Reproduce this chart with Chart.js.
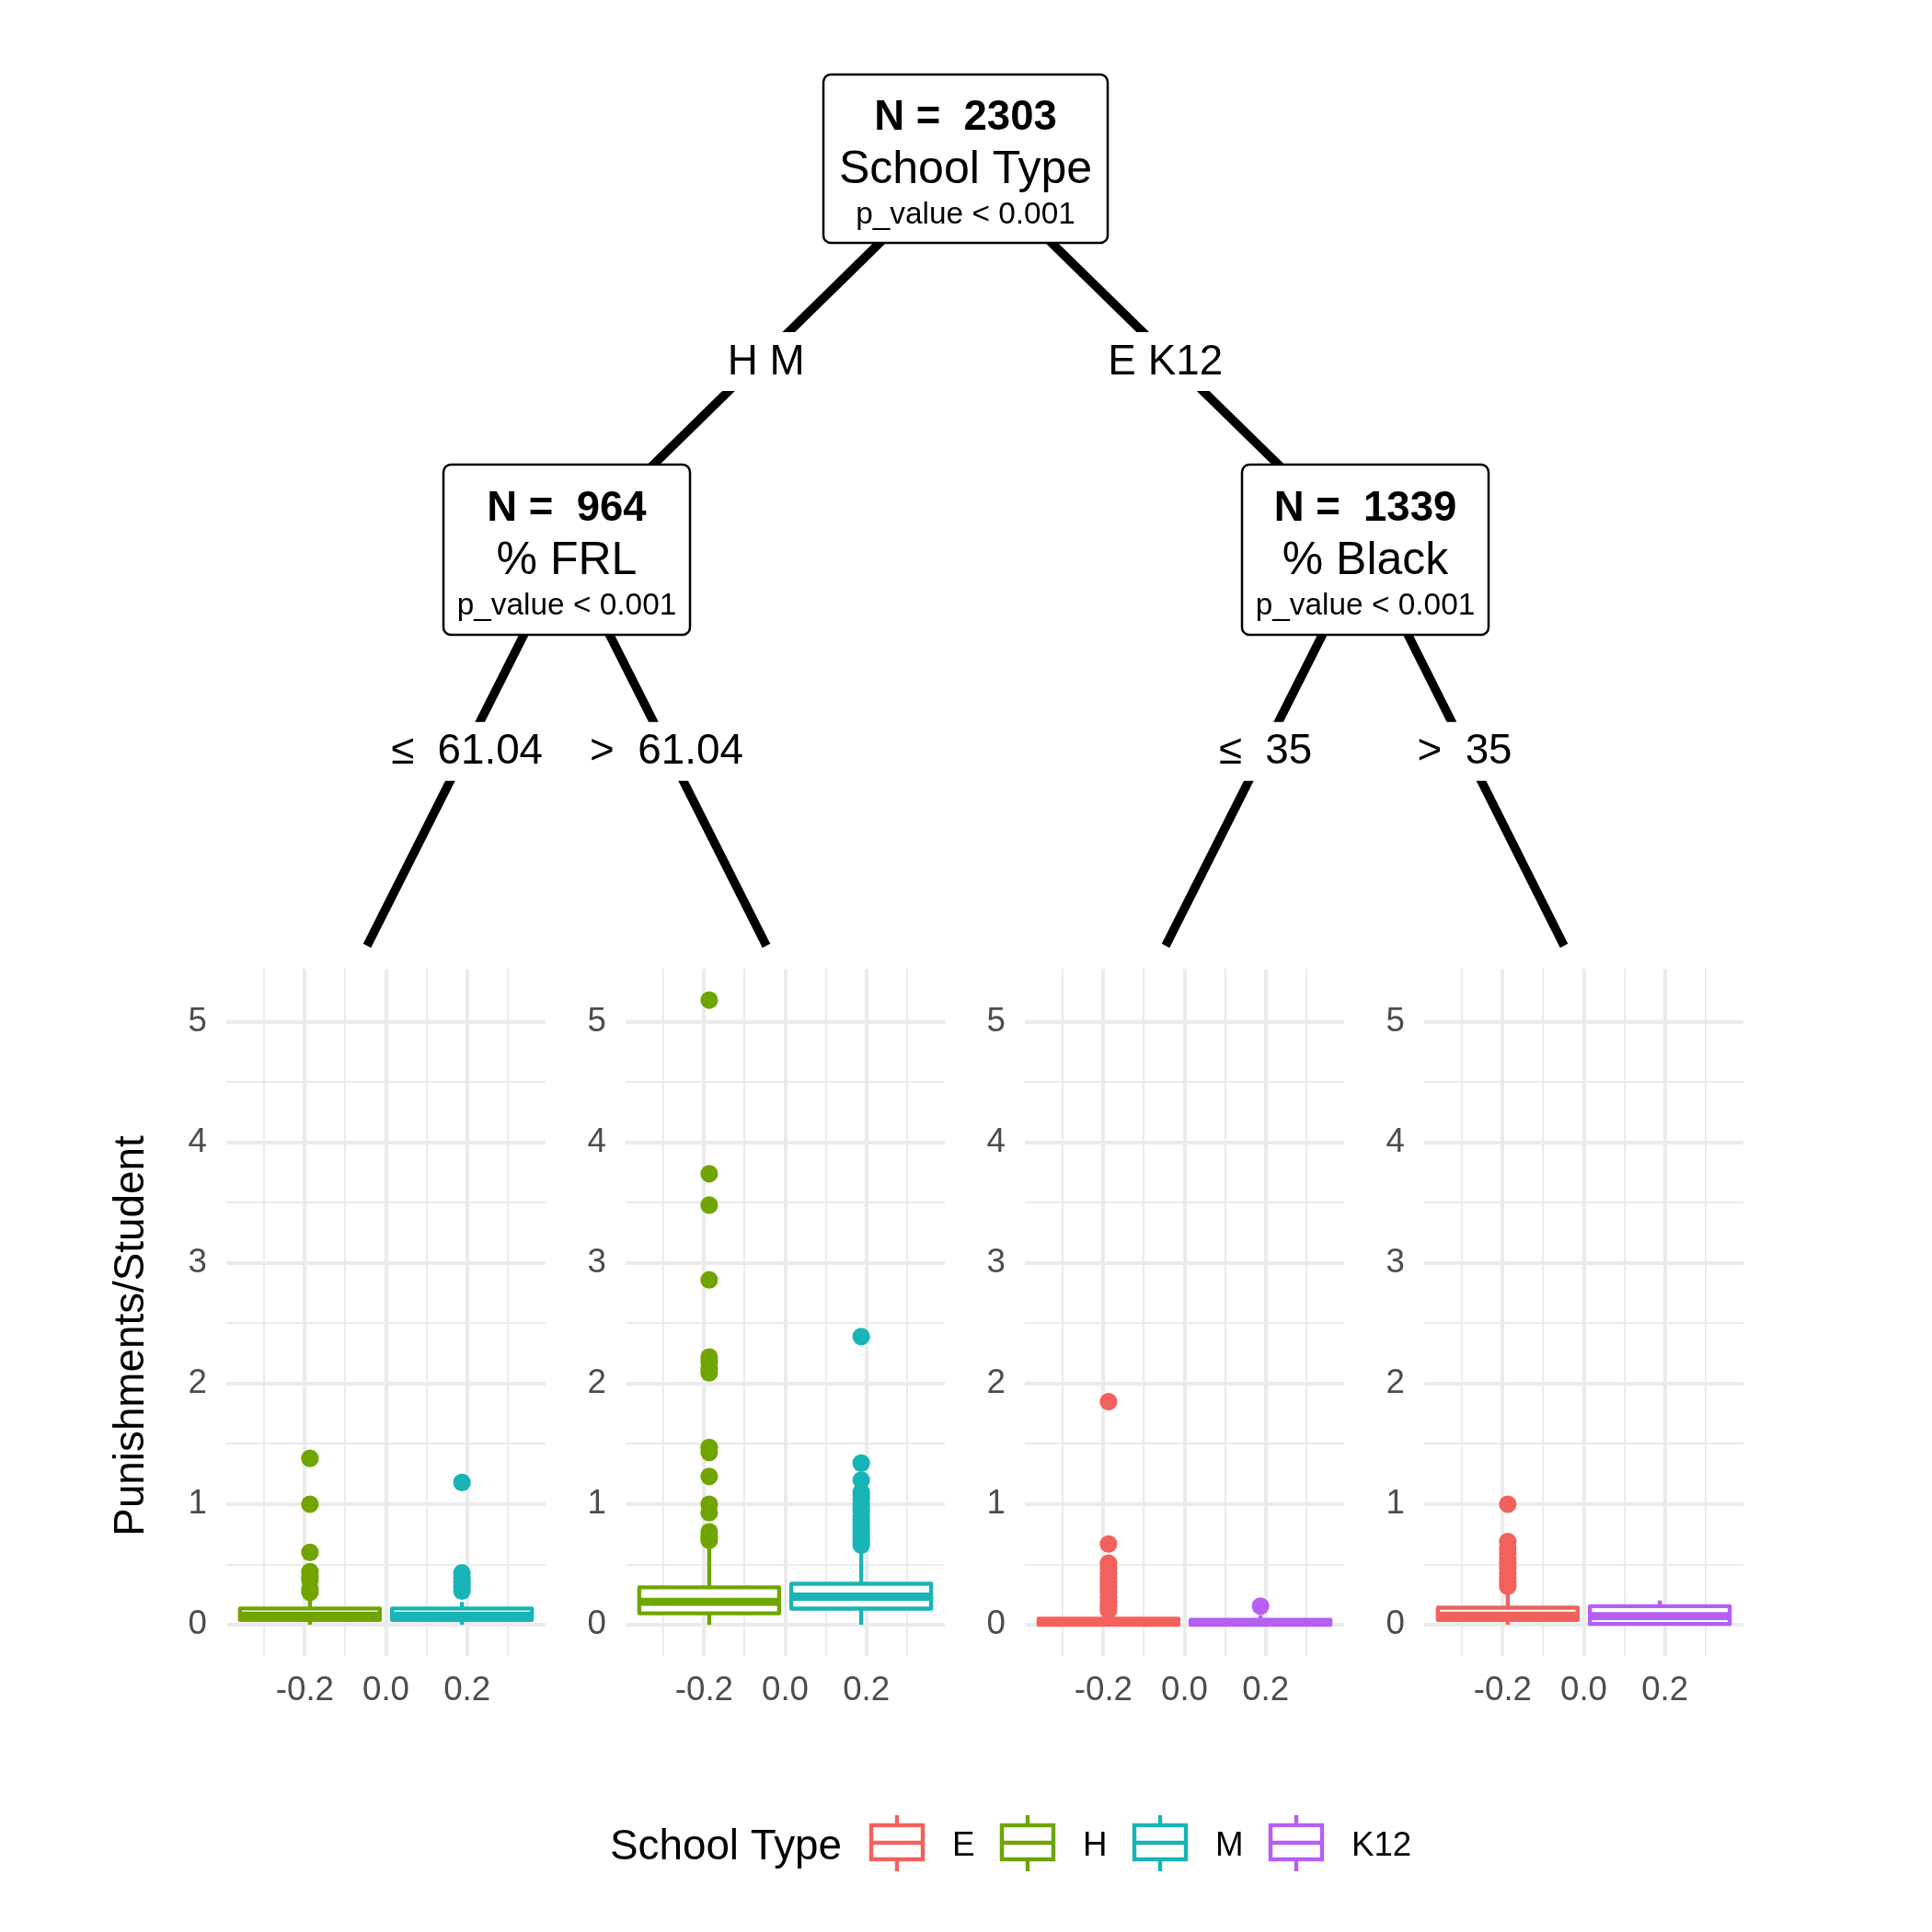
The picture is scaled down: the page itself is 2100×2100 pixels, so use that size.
<!DOCTYPE html>
<html>
<head>
<meta charset="utf-8">
<script src="https://cdn.jsdelivr.net/npm/chart.js@4.4.1/dist/chart.umd.min.js"></script>
<style>
  body { margin: 0; background: #fff; }
  #page { position: relative; width: 2100px; height: 2100px; background: #fff; }
  canvas { position: absolute; }
</style>
</head>
<body>
<div id="page">
  <canvas id="tree" width="2100" height="2100" style="left:0;top:0;width:2100px;height:2100px"></canvas>
</div>
<script>
// ---- data ----
const schoolTypes = ['E', 'H', 'M', 'K12'];
const typeColors = { E: '#F3615D', H: '#70A500', M: '#19B4B6', K12: '#B55FF5' };

const nodeN = [2303, 964, 1339];
const nodeVars = ['School Type', '% FRL', '% Black'];
const nodeP = ['p_value < 0.001', 'p_value < 0.001', 'p_value < 0.001'];
const edgeLabels = ['H M', 'E K12', '\u2264  61.04', '>  61.04', '\u2264  35', '>  35'];

const xTicks = [-0.2, 0.0, 0.2];
const yTicks = [0, 1, 2, 3, 4, 5];
const boxX = [-0.1875, 0.1875];

// terminal 1: % FRL <= 61.04
const t1Groups = ['H', 'M'];
const t1Low = [0, 0];
const t1Q1 = [0.04, 0.04];
const t1Median = [0.075, 0.075];
const t1Q3 = [0.135, 0.135];
const t1High = [0.2, 0.19];
const t1OutH = [1.38, 1.0, 0.6, 0.44, 0.4, 0.37, 0.3, 0.27];
const t1OutM = [1.18, 0.43, 0.39, 0.35, 0.32, 0.28];

// terminal 2: % FRL > 61.04
const t2Groups = ['H', 'M'];
const t2Low = [0, 0];
const t2Q1 = [0.095, 0.134];
const t2Median = [0.19, 0.233];
const t2Q3 = [0.31, 0.34];
const t2High = [0.64, 0.6];
const t2OutH = [5.18, 3.74, 3.48, 2.86, 2.22, 2.18, 2.12, 2.09, 1.47, 1.43, 1.23, 1.0, 0.93, 0.77, 0.73, 0.7];
const t2OutM = [2.39, 1.34, 1.2, 1.1, 1.07, 1.04, 1.0, 0.97, 0.94, 0.9, 0.87, 0.84, 0.81, 0.78, 0.75, 0.72, 0.69, 0.66];

// terminal 3: % Black <= 35
const t3Groups = ['E', 'K12'];
const t3Low = [0, 0];
const t3Q1 = [0, 0];
const t3Median = [0.02, 0.02];
const t3Q3 = [0.05, 0.04];
const t3High = [0.1, 0.08];
const t3OutE = [1.85, 0.67, 0.51, 0.47, 0.43, 0.39, 0.35, 0.31, 0.27, 0.23, 0.19, 0.15, 0.12];
const t3OutK12 = [0.155];

// terminal 4: % Black > 35
const t4Groups = ['E', 'K12'];
const t4Low = [0, 0];
const t4Q1 = [0.04, 0.007];
const t4Median = [0.076, 0.072];
const t4Q3 = [0.142, 0.154];
const t4High = [0.26, 0.2];
const t4OutE = [1.0, 0.69, 0.63, 0.59, 0.55, 0.51, 0.47, 0.43, 0.39, 0.35, 0.32];
const t4OutK12 = [];

// ---- layout ----
const FONT = '"Liberation Sans", Arial, Helvetica, sans-serif';
Chart.defaults.font.family = FONT;

const innerNodes = [
  { cx: 1049.5, cy: 172.5, w: 309, h: 183 },
  { cx: 616, cy: 597.5, w: 268, h: 185 },
  { cx: 1484, cy: 597.5, w: 268, h: 185 }
];
const termTops = [[399, 1028], [833, 1028], [1267, 1028], [1700, 1028]];
const edges = [[0, 'n', 1], [0, 'n', 2], [1, 't', 0], [1, 't', 1], [2, 't', 2], [2, 't', 3]];

const treePlugin = {
  id: 'tree',
  afterDraw(chart) {
    const ctx = chart.ctx;
    ctx.save();

    // edges
    ctx.strokeStyle = '#000';
    ctx.lineWidth = 9.5;
    ctx.lineCap = 'butt';
    const mids = [];
    edges.forEach(([from, kind, to]) => {
      const a = innerNodes[from];
      const b = kind === 'n' ? [innerNodes[to].cx, innerNodes[to].cy] : termTops[to];
      ctx.beginPath();
      ctx.moveTo(a.cx, a.cy);
      ctx.lineTo(b[0], b[1]);
      ctx.stroke();
      mids.push([(a.cx + b[0]) / 2, (a.cy + b[1]) / 2, kind === 'n' ? 9 : 5]);
    });

    // edge labels
    ctx.font = '45.8px ' + FONT;
    ctx.textAlign = 'center';
    ctx.textBaseline = 'middle';
    edgeLabels.forEach((lab, i) => {
      const [mx, my, dy] = mids[i];
      const w = ctx.measureText(lab).width + 12;
      ctx.fillStyle = '#fff';
      ctx.fillRect(mx - w / 2, my + dy - 1 - 32, w, 64);
      ctx.fillStyle = '#000';
      ctx.fillText(lab, mx, my + dy);
    });

    // inner nodes
    innerNodes.forEach((n, i) => {
      ctx.beginPath();
      ctx.roundRect(n.cx - n.w / 2, n.cy - n.h / 2, n.w, n.h, 8);
      ctx.fillStyle = '#fff';
      ctx.fill();
      ctx.lineWidth = 2.5;
      ctx.strokeStyle = '#000';
      ctx.stroke();
      ctx.fillStyle = '#000';
      ctx.textBaseline = 'alphabetic';
      ctx.font = 'bold 45.5px ' + FONT;
      ctx.fillText('N =  ' + nodeN[i], n.cx, n.cy - 32);
      ctx.font = '50px ' + FONT;
      ctx.fillText(nodeVars[i], n.cx, n.cy + 26);
      ctx.font = '33.4px ' + FONT;
      ctx.fillText(nodeP[i], n.cx, n.cy + 70);
    });

    // y axis title
    ctx.save();
    ctx.translate(143, 1452);
    ctx.rotate(-Math.PI / 2);
    ctx.font = '45.8px ' + FONT;
    ctx.textBaseline = 'middle';
    ctx.fillStyle = '#000';
    ctx.fillText('Punishments/Student', 0, 0);
    ctx.restore();

    // legend
    ctx.textAlign = 'left';
    ctx.textBaseline = 'middle';
    ctx.fillStyle = '#000';
    ctx.font = '45.8px ' + FONT;
    ctx.fillText('School Type', 663, 2008);
    const keyX = [947, 1089, 1233, 1381];
    ctx.font = '36.7px ' + FONT;
    schoolTypes.forEach((t, i) => {
      const x0 = keyX[i], cx = x0 + 28;
      ctx.strokeStyle = typeColors[t];
      ctx.lineWidth = 4.4;
      ctx.beginPath();
      ctx.moveTo(cx, 1973); ctx.lineTo(cx, 1984);
      ctx.moveTo(cx, 2021); ctx.lineTo(cx, 2034);
      ctx.stroke();
      ctx.fillStyle = '#fff';
      ctx.fillRect(x0, 1984, 56, 37);
      ctx.strokeRect(x0, 1984, 56, 37);
      ctx.beginPath();
      ctx.moveTo(x0, 2003); ctx.lineTo(x0 + 56, 2003);
      ctx.stroke();
      ctx.fillStyle = '#000';
      ctx.fillText(t, x0 + 88, 2007);
    });
    ctx.restore();
  }
};

new Chart(document.getElementById('tree'), {
  type: 'scatter',
  data: { datasets: [] },
  options: {
    responsive: false,
    animation: false,
    events: [],
    plugins: { legend: { display: false }, tooltip: { enabled: false } },
    scales: { x: { display: false }, y: { display: false } }
  },
  plugins: [treePlugin]
});

// ---- terminal panels ----
const terminals = [
  { left: 246, groups: t1Groups, low: t1Low, q1: t1Q1, med: t1Median, q3: t1Q3, high: t1High, out: [t1OutH, t1OutM] },
  { left: 680, groups: t2Groups, low: t2Low, q1: t2Q1, med: t2Median, q3: t2Q3, high: t2High, out: [t2OutH, t2OutM] },
  { left: 1114, groups: t3Groups, low: t3Low, q1: t3Q1, med: t3Median, q3: t3Q3, high: t3High, out: [t3OutE, t3OutK12] },
  { left: 1548, groups: t4Groups, low: t4Low, q1: t4Q1, med: t4Median, q3: t4Q3, high: t4High, out: [t4OutE, t4OutK12] }
];
const HALF_W = 0.1725;

function boxPlugin(term) {
  return {
    id: 'boxes',
    afterDatasetsDraw(chart) {
      const { ctx, chartArea } = chart;
      const x = chart.scales.x, y = chart.scales.y;
      ctx.save();
      ctx.beginPath();
      ctx.rect(chartArea.left, chartArea.top, chartArea.right - chartArea.left, chartArea.bottom - chartArea.top);
      ctx.clip();
      ctx.lineJoin = 'round';
      term.groups.forEach((g, i) => {
        const col = typeColors[g];
        const xc = x.getPixelForValue(boxX[i]);
        const xl = x.getPixelForValue(boxX[i] - HALF_W);
        const xr = x.getPixelForValue(boxX[i] + HALF_W);
        const yLo = y.getPixelForValue(term.low[i]);
        const yQ1 = y.getPixelForValue(term.q1[i]);
        const yMed = y.getPixelForValue(term.med[i]);
        const yQ3 = y.getPixelForValue(term.q3[i]);
        const yHi = y.getPixelForValue(term.high[i]);
        ctx.strokeStyle = col;
        ctx.lineWidth = 4.4;
        ctx.beginPath();
        ctx.moveTo(xc, yLo); ctx.lineTo(xc, yQ1);
        ctx.moveTo(xc, yQ3); ctx.lineTo(xc, yHi);
        ctx.stroke();
        ctx.fillStyle = '#fff';
        ctx.fillRect(xl, yQ3, xr - xl, yQ1 - yQ3);
        ctx.strokeRect(xl, yQ3, xr - xl, yQ1 - yQ3);
        ctx.lineWidth = 8.8;
        ctx.beginPath();
        ctx.moveTo(xl, yMed); ctx.lineTo(xr, yMed);
        ctx.stroke();
      });
      ctx.restore();
    }
  };
}

const page = document.getElementById('page');
terminals.forEach((term) => {
  const cv = document.createElement('canvas');
  cv.width = 457; cv.height = 847;
  cv.style.left = (term.left - 100) + 'px';
  cv.style.top = '1043px';
  cv.style.width = '457px';
  cv.style.height = '847px';
  page.appendChild(cv);

  const datasets = term.groups.map((g, i) => ({
    label: g,
    data: term.out[i].map(v => ({ x: boxX[i], y: v })),
    backgroundColor: typeColors[g],
    borderWidth: 0,
    pointRadius: 9.6,
    pointHoverRadius: 9.6
  }));

  new Chart(cv, {
    type: 'scatter',
    data: { datasets },
    options: {
      responsive: false,
      animation: false,
      events: [],
      layout: { padding: { top: 10, right: 10, left: 0, bottom: 0 } },
      plugins: { legend: { display: false }, tooltip: { enabled: false } },
      scales: {
        x: {
          type: 'linear',
          min: -0.39375,
          max: 0.39375,
          afterFit: s => { s.height = 90; s.paddingLeft = 0; s.paddingRight = 0; },
          border: { display: false },
          grid: {
            color: '#EBEBEB',
            drawTicks: false,
            lineWidth: c => (Math.round(c.tick.value * 10) % 2 === 0 ? 4 : 2)
          },
          ticks: {
            stepSize: 0.1,
            includeBounds: false,
            autoSkip: false,
            maxRotation: 0,
            minRotation: 0,
            maxTicksLimit: 20,
            padding: 16,
            color: '#4D4D4D',
            font: { size: 36.7 },
            callback: v => {
              const hit = xTicks.find(t => Math.abs(t - v) < 1e-6);
              return hit === undefined ? '' : hit.toFixed(1);
            }
          }
        },
        y: {
          type: 'linear',
          min: -0.259,
          max: 5.44,
          afterFit: s => { s.width = 100; s.paddingTop = 0; s.paddingBottom = 0; },
          border: { display: false },
          grid: {
            color: '#EBEBEB',
            drawTicks: false,
            lineWidth: c => (Math.abs(c.tick.value - Math.round(c.tick.value)) < 1e-6 ? 4 : 2)
          },
          ticks: {
            stepSize: 0.5,
            includeBounds: false,
            autoSkip: false,
            maxTicksLimit: 20,
            padding: 21,
            color: '#4D4D4D',
            font: { size: 36.7 },
            callback: v => {
              const hit = yTicks.find(t => Math.abs(t - v) < 1e-6);
              return hit === undefined ? '' : String(hit);
            }
          }
        }
      }
    },
    plugins: [boxPlugin(term)]
  });
});
</script>
</body>
</html>
